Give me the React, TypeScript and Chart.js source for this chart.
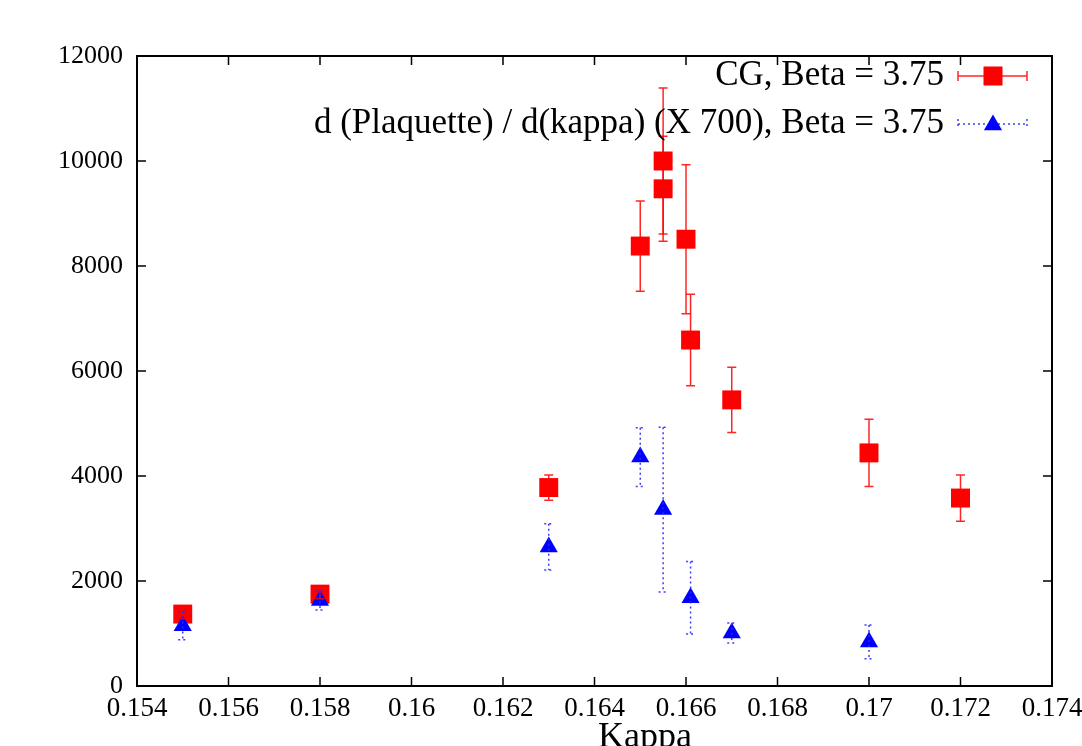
import React, { useEffect, useRef } from 'react';
import { Chart, registerables } from 'chart.js';

Chart.register(...registerables);

const kappaCG = [0.155, 0.158, 0.163, 0.165, 0.1655, 0.1655, 0.166, 0.1661, 0.167, 0.17, 0.172];
const cgValues = [1370, 1750, 3780, 8380, 10000, 9470, 8510, 6590, 5450, 4440, 3580];
const cgErrors = [90, 90, 240, 860, 1390, 1000, 1420, 870, 620, 640, 440];

const kappaPlaq = [0.155, 0.158, 0.163, 0.165, 0.1655, 0.1661, 0.167, 0.17];
const plaqValues = [1150, 1630, 2650, 4360, 3360, 1680, 1010, 840];
const plaqErrors = [270, 180, 440, 560, 1570, 690, 190, 320];

const xTickValues = [0.154, 0.156, 0.158, 0.16, 0.162, 0.164, 0.166, 0.168, 0.17, 0.172, 0.174];
const xTickLabels = ['0.154', '0.156', '0.158', '0.16', '0.162', '0.164', '0.166', '0.168', '0.17', '0.172', '0.174'];
const yTickValues = [0, 2000, 4000, 6000, 8000, 10000, 12000];
const yTickLabels = ['0', '2000', '4000', '6000', '8000', '10000', '12000'];

const cgLabel = 'CG, Beta = 3.75';
const plaqLabel = 'd (Plaquette) / d(kappa) (X 700), Beta = 3.75';
const xTitle = 'Kappa';

const RED = '#ff0000';
const BLUE = '#0000ff';
const RED_ERR = 'rgba(255,0,0,0.85)';
const BLUE_ERR = 'rgba(40,40,255,0.9)';
const SERIF = '"Liberation Serif", "Times New Roman", serif';

function drawTriangle(ctx: CanvasRenderingContext2D, x: number, y: number, r: number) {
  ctx.beginPath();
  ctx.moveTo(x, y - r);
  ctx.lineTo(x + 0.866 * r, y + 0.5 * r);
  ctx.lineTo(x - 0.866 * r, y + 0.5 * r);
  ctx.closePath();
  ctx.fill();
}

const errorBarsPlugin = {
  id: 'errorBars',
  afterDatasetsDraw(chart: any) {
    const ctx: CanvasRenderingContext2D = chart.ctx;
    const xs = chart.scales.x;
    const ys = chart.scales.y;
    const drawSet = (kx: number[], vals: number[], errs: number[], color: string, dashed: boolean) => {
      ctx.save();
      ctx.strokeStyle = color;
      ctx.lineWidth = 1.5;
      if (dashed) ctx.setLineDash([2, 3]);
      for (let i = 0; i < kx.length; i++) {
        const px = xs.getPixelForValue(kx[i]);
        const top = ys.getPixelForValue(vals[i] + errs[i]);
        const bot = ys.getPixelForValue(vals[i] - errs[i]);
        ctx.beginPath();
        ctx.moveTo(px, top);
        ctx.lineTo(px, bot);
        ctx.moveTo(px - 4.5, top);
        ctx.lineTo(px + 4.5, top);
        ctx.moveTo(px - 4.5, bot);
        ctx.lineTo(px + 4.5, bot);
        ctx.stroke();
      }
      ctx.restore();
    };
    drawSet(kappaCG, cgValues, cgErrors, RED_ERR, false);
    drawSet(kappaPlaq, plaqValues, plaqErrors, BLUE_ERR, true);
  },
};

const framePlugin = {
  id: 'frame',
  afterDraw(chart: any) {
    const ctx: CanvasRenderingContext2D = chart.ctx;
    const { left, right, top, bottom } = chart.chartArea;
    const xs = chart.scales.x;
    const ys = chart.scales.y;
    ctx.save();
    ctx.strokeStyle = '#000';
    ctx.lineWidth = 1.5;
    ctx.beginPath();
    for (const v of xTickValues) {
      const px = xs.getPixelForValue(v);
      ctx.moveTo(px, bottom);
      ctx.lineTo(px, bottom - 9);
      ctx.moveTo(px, top);
      ctx.lineTo(px, top + 9);
    }
    for (const v of yTickValues) {
      const py = ys.getPixelForValue(v);
      ctx.moveTo(left, py);
      ctx.lineTo(left + 9, py);
      ctx.moveTo(right, py);
      ctx.lineTo(right - 9, py);
    }
    ctx.stroke();
    ctx.lineWidth = 2;
    ctx.strokeRect(left, top, right - left, bottom - top);

    // x tick labels
    ctx.fillStyle = '#000';
    ctx.font = `27px ${SERIF}`;
    ctx.textAlign = 'center';
    ctx.textBaseline = 'alphabetic';
    xTickValues.forEach((v, i) => {
      ctx.fillText(xTickLabels[i], xs.getPixelForValue(v), 716);
    });

    // legend
    ctx.font = `35px ${SERIF}`;
    ctx.fillStyle = '#000';
    ctx.textAlign = 'right';
    ctx.textBaseline = 'middle';
    const textRight = 944;
    const l0 = 958;
    const l1 = 1027;
    const mid = 993;
    const row1 = 76;
    const row2 = 124;
    ctx.fillText(cgLabel, textRight, row1);
    ctx.fillText(plaqLabel, textRight, row2);

    ctx.strokeStyle = RED_ERR;
    ctx.lineWidth = 1.5;
    ctx.beginPath();
    ctx.moveTo(l0, row1);
    ctx.lineTo(l1, row1);
    ctx.moveTo(l0, row1 - 5);
    ctx.lineTo(l0, row1 + 5);
    ctx.moveTo(l1, row1 - 5);
    ctx.lineTo(l1, row1 + 5);
    ctx.stroke();
    ctx.fillStyle = RED;
    ctx.fillRect(mid - 9.5, row1 - 9.5, 19, 19);

    ctx.strokeStyle = BLUE_ERR;
    ctx.setLineDash([2, 3]);
    ctx.beginPath();
    ctx.moveTo(l0, row2);
    ctx.lineTo(l1, row2);
    ctx.moveTo(l0, row2 - 5);
    ctx.lineTo(l0, row2 + 5);
    ctx.moveTo(l1, row2 - 5);
    ctx.lineTo(l1, row2 + 5);
    ctx.stroke();
    ctx.setLineDash([]);
    ctx.fillStyle = BLUE;
    drawTriangle(ctx, mid, row2 + 1, 10.5);

    // axis title
    ctx.fillStyle = '#000';
    ctx.font = `36px ${SERIF}`;
    ctx.textAlign = 'center';
    ctx.textBaseline = 'alphabetic';
    ctx.fillText(xTitle, 645, 747);
    ctx.restore();
  },
};

export default function App() {
  const canvasRef = useRef<HTMLCanvasElement | null>(null);

  useEffect(() => {
    const canvas = canvasRef.current;
    if (!canvas) return;
    const chart = new Chart(canvas, {
      type: 'scatter',
      data: {
        datasets: [
          {
            label: plaqLabel,
            data: kappaPlaq.map((k, i) => ({ x: k, y: plaqValues[i] })),
            backgroundColor: BLUE,
            borderColor: BLUE,
            borderWidth: 0,
            pointStyle: 'triangle',
            pointRadius: 10.5,
            order: 0,
          },
          {
            label: cgLabel,
            data: kappaCG.map((k, i) => ({ x: k, y: cgValues[i] })),
            backgroundColor: RED,
            borderColor: RED,
            borderWidth: 0,
            pointStyle: 'rect',
            pointRadius: 13.4,
            order: 1,
          },
        ],
      },
      options: {
        responsive: false,
        animation: false,
        layout: { padding: { top: 56, right: 30, left: 0, bottom: 0 } },
        plugins: {
          legend: { display: false },
          tooltip: { enabled: false },
        },
        scales: {
          x: {
            type: 'linear',
            min: 0.154,
            max: 0.174,
            afterBuildTicks: (scale: any) => {
              scale.ticks = xTickValues.map((v) => ({ value: v }));
            },
            afterFit: (scale: any) => {
              scale.height = 60;
            },
            grid: { display: false, drawTicks: false },
            border: { display: false },
            ticks: { display: false },
          },
          y: {
            type: 'linear',
            min: 0,
            max: 12000,
            afterBuildTicks: (scale: any) => {
              scale.ticks = yTickValues.map((v) => ({ value: v }));
            },
            afterFit: (scale: any) => {
              scale.width = 137;
            },
            grid: { display: false, drawTicks: false },
            border: { display: false },
            ticks: {
              autoSkip: false,
              padding: 14,
              color: '#000',
              font: { family: SERIF, size: 26 },
              callback: (_v: any, i: number) => yTickLabels[i],
            },
          },
        },
      },
      plugins: [errorBarsPlugin, framePlugin],
    });
    return () => chart.destroy();
  }, []);

  return (
    <div style={{ position: 'fixed', left: 0, top: 0, width: 1082, height: 746, background: '#fff' }}>
      <canvas ref={canvasRef} width={1082} height={746} />
    </div>
  );
}
